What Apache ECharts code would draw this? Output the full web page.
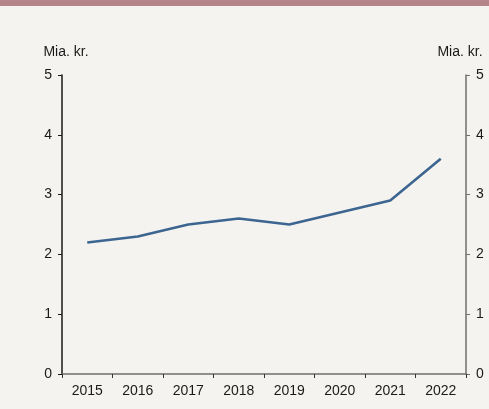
<!DOCTYPE html>
<html>
<head>
<meta charset="utf-8">
<script src="https://cdn.jsdelivr.net/npm/echarts@6/dist/echarts.min.js"></script>
<style>
  html, body { margin: 0; padding: 0; background: #f4f3ef; }
  #band { position: absolute; left: 0; top: 0; width: 489px; height: 6px; background: #b5838a; }
  #chart { position: absolute; left: 0; top: 0; width: 489px; height: 409px; }
</style>
</head>
<body>
<div id="chart"></div>
<div id="band"></div>
<script>
// Annual values, billion kroner
const years = ['2015', '2016', '2017', '2018', '2019', '2020', '2021', '2022'];
const values = [2.2, 2.3, 2.5, 2.6, 2.5, 2.7, 2.9, 3.6];
const unitLabel = 'Mia. kr.';

const font = 'Liberation Sans, Arial, sans-serif';
const fontSize = 14;
const textColor = '#1a1a1a';

const chart = echarts.init(document.getElementById('chart'), null, { renderer: 'canvas' });

function yAxisDef(side, lineColor, namePad) {
  return {
    type: 'value',
    position: side,
    min: 0, max: 5, interval: 1,
    name: unitLabel,
    nameLocation: 'end',
    nameGap: 16,
    nameTextStyle: { fontFamily: font, fontSize: fontSize, color: textColor, padding: namePad },
    axisLine: { show: true, lineStyle: { color: lineColor, width: 1.5 } },
    axisTick: { show: true, inside: false, length: 4, lineStyle: { color: lineColor, width: 1 } },
    axisLabel: { fontFamily: font, fontSize: fontSize, color: textColor, margin: 10 },
    splitLine: { show: false }
  };
}

chart.setOption({
  backgroundColor: '#f4f3ef',
  animation: false,
  grid: { left: 62, right: 23, top: 75, bottom: 35, containLabel: false },
  xAxis: {
    type: 'category',
    data: years,
    boundaryGap: true,
    axisLine: { show: true, lineStyle: { color: '#6f6f6f', width: 1.5 } },
    axisTick: { show: true, inside: false, length: 4, alignWithLabel: false, lineStyle: { color: '#333', width: 1 } },
    axisLabel: { fontFamily: font, fontSize: fontSize, color: textColor, margin: 10 }
  },
  yAxis: [
    yAxisDef('left', '#1a1a1a', [0, 0, 0, 8]),
    yAxisDef('right', '#6f6f6f', [0, 12, 0, 0])
  ],
  series: [{
    type: 'line',
    data: values,
    yAxisIndex: 0,
    symbol: 'none',
    lineStyle: { color: '#3d6591', width: 2.6 }
  }]
});
</script>
</body>
</html>
